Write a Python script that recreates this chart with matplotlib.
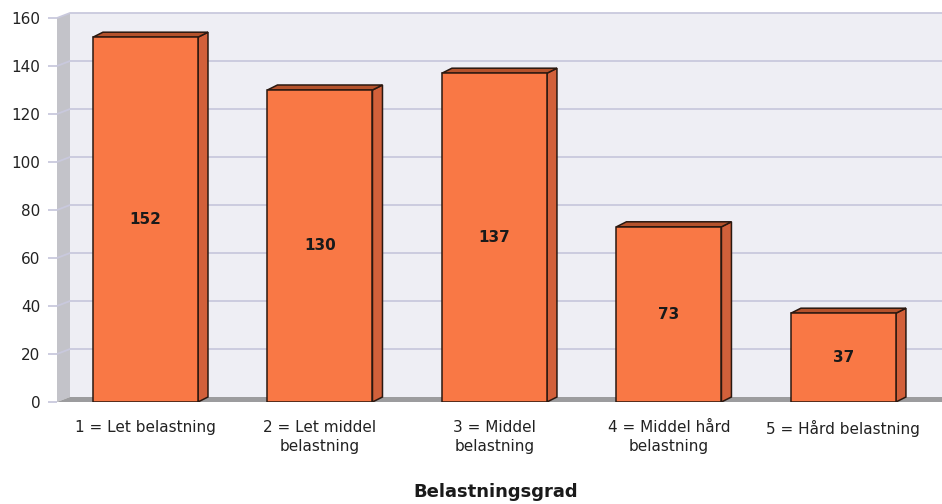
import matplotlib
matplotlib.use("Agg")
import matplotlib.pyplot as plt
from matplotlib.patches import Polygon
import numpy as np

categories = ["1 = Let belastning", "2 = Let middel\nbelastning", "3 = Middel\nbelastning",
              "4 = Middel hård\nbelastning", "5 = Hård belastning"]
counts = [152, 130, 137, 73, 37]
y_ticks = [0, 20, 40, 60, 80, 100, 120, 140, 160]
x_title = "Belastningsgrad"

plt.rcParams['font.family'] = ['DejaVu Sans']

W, H = 942, 504
fig = plt.figure(figsize=(W / 100, H / 100), dpi=100)
ax = fig.add_axes([57 / W, 102 / H, 885 / W, 384 / H])
x = np.arange(len(categories))
xl, xr = -0.507, 4.565
ax.set_xlim(xl, xr)
ax.set_ylim(0, 160)

# pixel -> data conversion factors for the pseudo-3D depth
px_x = (xr - xl) / 885.0
px_y = 160 / 384.0
wdx, wdy = 13 * px_x, 5 * px_y      # wall depth
bdx, bdy = 10 * px_x, 5 * px_y      # bar depth

wall_c = '#eeeef4'
side_c = '#c3c3c9'
floor_c = '#9c9c9e'
grid_c = '#c9c9dd'

# side wall
ax.add_patch(Polygon([(xl, 0), (xl + wdx, wdy), (xl + wdx, 160 + wdy), (xl, 160)],
                     closed=True, facecolor=side_c, edgecolor='none', clip_on=False, zorder=0))
# back wall
ax.add_patch(Polygon([(xl + wdx, wdy), (xr, wdy), (xr, 160 + wdy), (xl + wdx, 160 + wdy)],
                     closed=True, facecolor=wall_c, edgecolor='none', clip_on=False, zorder=0))
# grid lines on side and back walls
for v in y_ticks[1:]:
    ax.plot([xl, xl + wdx, xr], [v, v + wdy, v + wdy], color=grid_c, lw=1.3,
            clip_on=False, zorder=1, solid_capstyle='butt')
# floor
ax.add_patch(Polygon([(xl, 0), (xr, 0), (xr, wdy), (xl + wdx, wdy)],
                     closed=True, facecolor=floor_c, edgecolor='none', clip_on=False, zorder=1))

front_c = '#f97845'
right_c = '#d2603a'
top_c = '#b4522c'
edge_c = '#2a1810'
bw = 0.602

ax.bar(x, counts, width=bw, color=front_c, edgecolor=edge_c, linewidth=1.1, zorder=4)
for xi, v in zip(x, counts):
    x0, x1 = xi - bw / 2, xi + bw / 2
    ax.add_patch(Polygon([(x1, 0), (x1 + bdx, bdy), (x1 + bdx, v + bdy), (x1, v)],
                         closed=True, facecolor=right_c, edgecolor=edge_c, lw=1.1, zorder=3))
    ax.add_patch(Polygon([(x0, v), (x0 + bdx, v + bdy), (x1 + bdx, v + bdy), (x1, v)],
                         closed=True, facecolor=top_c, edgecolor=edge_c, lw=1.1, zorder=3))
    ax.text(xi, v / 2, str(v), ha='center', va='center', fontsize=11,
            fontweight='bold', color='#1a1a1a', zorder=5)

for s in ax.spines.values():
    s.set_visible(False)

ax.set_yticks(y_ticks)
ax.tick_params(axis='y', length=6.5, width=1.3, color=grid_c, pad=5.5,
               labelsize=11, labelcolor='#222222')
ax.set_xticks(x, categories)
ax.tick_params(axis='x', length=0, pad=13, labelsize=11, labelcolor='#222222')
for lbl in ax.get_xticklabels():
    lbl.set_linespacing(1.35)

fig.text(496 / W, 1 - 492 / H, x_title, ha='center', va='center',
         fontsize=13, fontweight='bold', color='#1a1a1a')

fig.savefig('out.png', dpi=100, facecolor='white')
